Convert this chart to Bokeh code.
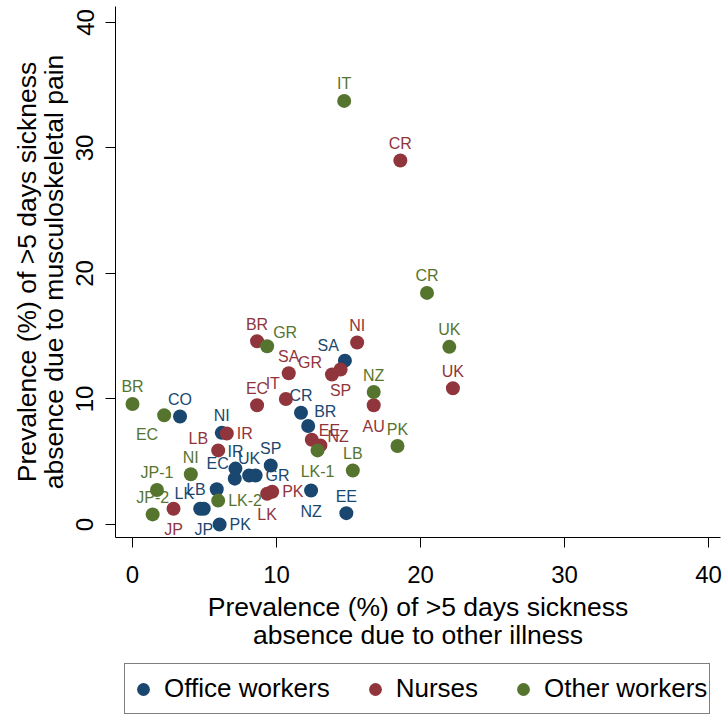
from bokeh.plotting import figure
from bokeh.models import (ColumnDataSource, Legend, LegendItem, FixedTicker,
                          Range1d, LinearAxis)
from bokeh.layouts import column
from bokeh.core.properties import value, field
from bokeh.embed import file_html
from bokeh.resources import INLINE

# ---- data (x = other illness %, y = musculoskeletal pain %) ----
office_lab = ["CO", "NI", "IR", "EC", "UK", "GR", "SP", "LB", "LK", "JP", "PK",
              "CR", "BR", "SA", "NZ", "EE"]
office_x = [3.3, 6.2, 7.15, 7.1, 8.1, 8.55, 9.6, 5.85, 4.7, 4.95, 6.05,
            11.7, 12.2, 14.75, 12.4, 14.85]
office_y = [8.6, 7.3, 4.45, 3.65, 3.9, 3.9, 4.7, 2.8, 1.25, 1.25, 0.0,
            8.9, 7.85, 13.05, 2.7, 0.9]
office_pos = [12, 12, 12, 11, 12, 3, 12, 9, 11, 6, 3, 12, 1, 11, 6, 12]

nurse_lab = ["BR", "SA", "EC", "IT", "LB", "IR", "JP", "PK", "LK", "GR", "SP",
             "NI", "EE", "NZ", "AU", "UK", "CR"]
nurse_x = [8.65, 10.85, 8.65, 10.65, 5.95, 6.55, 2.85, 9.7, 9.35, 13.85, 14.45,
           15.6, 12.45, 13.05, 16.75, 22.25, 18.6]
nurse_y = [14.6, 12.05, 9.5, 10.0, 5.9, 7.25, 1.25, 2.6, 2.45, 11.95, 12.35,
           14.5, 6.75, 6.3, 9.5, 10.85, 29.0]
nurse_pos = [12, 12, 12, 11, 10, 3, 6, 3, 6, 10, 6, 12, 2, 2, 6, 12, 12]

other_lab = ["BR", "EC", "NI", "JP-1", "JP-2", "LK-2", "GR", "IT", "LK-1", "LB",
             "NZ", "PK", "CR", "UK"]
other_x = [0.0, 2.2, 4.05, 1.7, 1.4, 5.95, 9.35, 14.7, 12.85, 15.3,
           16.75, 18.4, 20.45, 22.0]
other_y = [9.6, 8.7, 4.0, 2.75, 0.8, 1.9, 14.2, 33.75, 5.9, 4.3,
           10.55, 6.25, 18.45, 14.15]
other_pos = [12, 7, 12, 12, 12, 3, 1, 12, 6, 12, 12, 12, 12, 12]

series_names = ["Office workers", "Nurses", "Other workers"]
ticks = [0, 10, 20, 30, 40]
x_title = ["Prevalence (%) of >5 days sickness", "absence due to other illness"]
y_title = ["Prevalence (%) of >5 days sickness", "absence due to musculoskeletal pain"]

# ---- styles ----
FONT = "Liberation Sans"
COLORS = ["#1a476f", "#90353b", "#55752f"]
POS = {
    12: ("center", 0, -17),
    6: ("center", 0, 21),
    3: ("left", 10, 0),
    9: ("right", -11, 0),
    1: ("left", 6, -14),
    2: ("left", 7, -9),
    11: ("right", -6, -15),
    10: ("right", -10, -12),
    7: ("right", -6, 19),
}

p = figure(width=728, height=660,
           x_range=Range1d(-1.18, 40.83), y_range=Range1d(-1.04, 41.27),
           output_backend="svg", toolbar_location=None,
           min_border_left=115, min_border_right=8, min_border_top=6,
           min_border_bottom=123)
p.outline_line_color = None
p.grid.visible = False
p.background_fill_color = "white"
p.border_fill_color = "white"


def style_title(ax):
    ax.axis_label_text_font = FONT
    ax.axis_label_text_font_size = "26.5px"
    ax.axis_label_text_font_style = "normal"
    ax.axis_label_text_color = "black"


for ax in (p.xaxis[0], p.yaxis[0]):
    ax.ticker = FixedTicker(ticks=ticks)
    ax.minor_tick_line_color = None
    ax.major_tick_in = 0
    ax.major_tick_out = 10
    ax.axis_line_color = "black"
    ax.major_tick_line_color = "black"
    ax.major_label_text_font = FONT
    ax.major_label_text_font_size = "24px"
    ax.major_label_text_color = "black"
    style_title(ax)

p.xaxis[0].axis_label = x_title[0]
p.xaxis[0].major_label_standoff = 18
p.xaxis[0].axis_label_standoff = 6
p.yaxis[0].axis_label = y_title[1]
p.yaxis[0].major_label_orientation = "parallel"
p.yaxis[0].major_label_standoff = 12
p.yaxis[0].axis_label_standoff = 5


def title_axis(text, standoff):
    ax = LinearAxis(axis_label=text, ticker=FixedTicker(ticks=[]),
                    axis_line_color=None, major_tick_line_color=None,
                    minor_tick_line_color=None, major_tick_in=0,
                    major_tick_out=0, minor_tick_in=0, minor_tick_out=0,
                    major_label_standoff=0, axis_label_standoff=standoff)
    style_title(ax)
    return ax


p.add_layout(title_axis(x_title[1], -5), "below")
p.add_layout(title_axis(y_title[0], -6), "left")

all_series = [
    (office_lab, office_x, office_y, office_pos),
    (nurse_lab, nurse_x, nurse_y, nurse_pos),
    (other_lab, other_x, other_y, other_pos),
]

for (lab, xs, ys, pos), color in zip(all_series, COLORS):
    src = ColumnDataSource(dict(
        x=xs, y=ys, lab=lab,
        align=[POS[q][0] for q in pos],
        xo=[POS[q][1] for q in pos],
        yo=[POS[q][2] for q in pos],
    ))
    p.scatter("x", "y", source=src, size=14, fill_color=color,
              line_color=color, line_width=0)
    p.text("x", "y", text="lab", source=src, text_align=field("align"),
           text_baseline="middle", x_offset=field("xo"), y_offset=field("yo"),
           text_font=value(FONT), text_font_size="16px", text_color=color)

# ---- legend strip below the chart (its frame aligns with the chart frame) ----
lg = figure(width=728, height=55, output_backend="svg", toolbar_location=None,
            x_axis_location=None, y_axis_location=None,
            x_range=Range1d(0, 1), y_range=Range1d(0, 1),
            min_border_left=115, min_border_right=8, min_border_top=0,
            min_border_bottom=0)
lg.outline_line_color = None
lg.grid.visible = False
items = []
for (lab, xs, ys, pos), color, name in zip(all_series, COLORS, series_names):
    r = lg.scatter(x=xs, y=ys, size=14, fill_color=color, line_color=color,
                   line_width=0, visible=False)
    items.append(LegendItem(label=name, renderers=[r]))
legend = Legend(items=items, orientation="horizontal", location=(9, 1),
                glyph_width=32, glyph_height=32, label_height=45,
                label_standoff=5, spacing=29, padding=2, margin=0,
                label_text_font=FONT, label_text_font_size="26px",
                label_text_color="black",
                inactive_fill_alpha=0.0,
                border_line_color="black", border_line_width=1,
                background_fill_color="white", background_fill_alpha=1.0)
lg.add_layout(legend)

open("out.html", "w").write(file_html(column(p, lg), INLINE))
